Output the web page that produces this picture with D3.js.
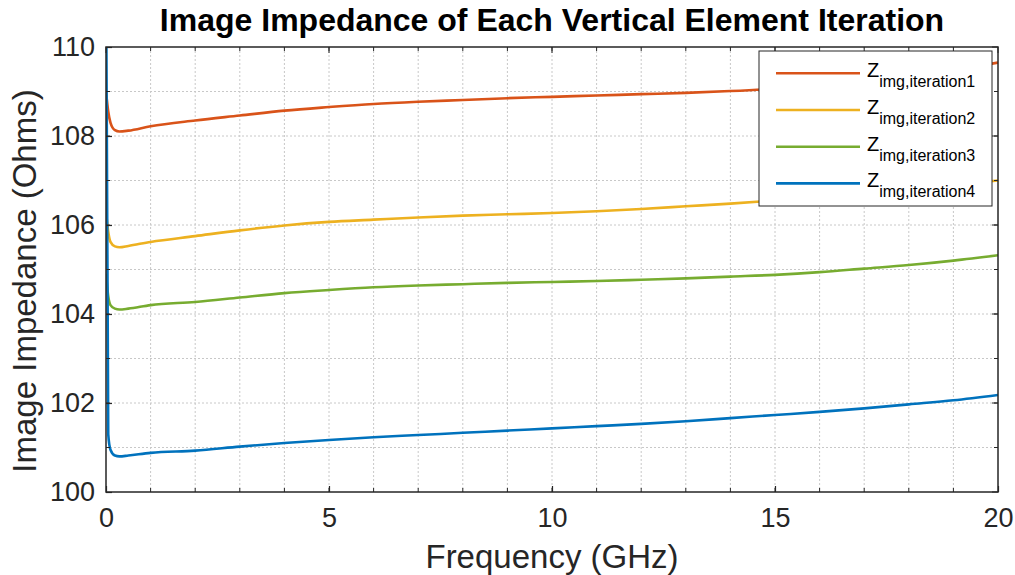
<!DOCTYPE html>
<html><head><meta charset="utf-8">
<script src="https://cdn.jsdelivr.net/npm/d3@7"></script>
<style>body{margin:0;background:#fff;} text{font-family:"Liberation Sans",Arial,sans-serif;}</style>
</head><body><svg id="c" width="1015" height="575"></svg>
<script>
const freq = [0, 0.05, 0.1, 0.2, 0.3, 0.5, 1, 2, 3, 4, 5, 6, 7, 8, 9, 10, 11, 12, 13, 14, 15, 16, 17, 18, 19, 20];
const iter1 = [109.0, 108.55, 108.3, 108.13, 108.1, 108.12, 108.22, 108.35, 108.46, 108.57, 108.65, 108.72, 108.77, 108.81, 108.85, 108.88, 108.91, 108.94, 108.97, 109.01, 109.06, 109.13, 109.22, 109.33, 109.47, 109.65];
const iter2 = [106.3, 105.85, 105.62, 105.52, 105.5, 105.53, 105.62, 105.75, 105.88, 105.99, 106.07, 106.12, 106.17, 106.21, 106.24, 106.27, 106.31, 106.36, 106.42, 106.48, 106.55, 106.63, 106.71, 106.8, 106.9, 107.0];
const iter3 = [104.9, 104.4, 104.2, 104.12, 104.1, 104.12, 104.2, 104.27, 104.37, 104.47, 104.54, 104.6, 104.64, 104.67, 104.7, 104.72, 104.74, 104.77, 104.8, 104.84, 104.88, 104.94, 105.02, 105.1, 105.2, 105.32];
const iter4 = [112, 101.3, 100.95, 100.82, 100.8, 100.82, 100.88, 100.93, 101.02, 101.1, 101.17, 101.23, 101.28, 101.33, 101.38, 101.43, 101.48, 101.53, 101.59, 101.66, 101.73, 101.8, 101.88, 101.97, 102.06, 102.18];
const seriesNames = ["iteration1", "iteration2", "iteration3", "iteration4"];
const colors = ["#D95319", "#EDB120", "#77AC30", "#0072BD"];
const xTicks = [0, 5, 10, 15, 20];
const yTicks = [100, 102, 104, 106, 108, 110];

const svg = d3.select("#c");
const L = 106, R = 998, T = 47, B = 492;
const x = d3.scaleLinear().domain([0, 20]).range([L, R]);
const y = d3.scaleLinear().domain([100, 110]).range([B, T]);

svg.append("defs").append("clipPath").attr("id", "clip")
  .append("rect").attr("x", L).attr("y", T).attr("width", R - L).attr("height", B - T);

// grid (minor + major, dotted)
const gx = d3.range(1, 20), gy = d3.range(101, 110);
svg.append("g").selectAll("line").data(gx).join("line")
  .attr("x1", d => x(d)).attr("x2", d => x(d)).attr("y1", T).attr("y2", B)
  .attr("stroke", "#c8c8c8").attr("stroke-width", 1).attr("stroke-dasharray", "2,2");
svg.append("g").selectAll("line").data(gy).join("line")
  .attr("y1", d => y(d)).attr("y2", d => y(d)).attr("x1", L).attr("x2", R)
  .attr("stroke", "#c8c8c8").attr("stroke-width", 1).attr("stroke-dasharray", "2,2");

// lines
const data = [iter1, iter2, iter3, iter4];
const line = d3.line().x(d => x(d[0])).y(d => y(d[1])).curve(d3.curveMonotoneX);
const lg = svg.append("g").attr("clip-path", "url(#clip)");
data.forEach((s, i) => {
  lg.append("path").datum(freq.map((f, j) => [f, s[j]]))
    .attr("d", line).attr("fill", "none").attr("stroke", colors[i]).attr("stroke-width", 2.6);
});

// axes box with inward ticks
const axCol = "#262626";
const fs = 27;
const bottom = d3.axisBottom(x).tickValues(xTicks).tickSize(-6).tickPadding(16).tickFormat(d3.format("d"));
const left = d3.axisLeft(y).tickValues(yTicks).tickSize(-6).tickPadding(11).tickFormat(d3.format("d"));
const gb = svg.append("g").attr("transform", `translate(0,${B})`).call(bottom);
const gl = svg.append("g").attr("transform", `translate(${L},0)`).call(left);
[gb, gl].forEach(g => {
  g.select(".domain").remove();
  g.selectAll("line").attr("stroke", axCol).attr("stroke-width", 1.2);
  g.selectAll("text").attr("fill", axCol).style("font-size", fs + "px").style("font-family", "Liberation Sans, Arial, sans-serif");
});
// minor ticks
const minorG = svg.append("g").attr("stroke", axCol).attr("stroke-width", 1);
gx.forEach(d => {
  minorG.append("line").attr("x1", x(d)).attr("x2", x(d)).attr("y1", B).attr("y2", B - 4);
  minorG.append("line").attr("x1", x(d)).attr("x2", x(d)).attr("y1", T).attr("y2", T + 4);
});
gy.forEach(d => {
  minorG.append("line").attr("y1", y(d)).attr("y2", y(d)).attr("x1", L).attr("x2", L + 4);
  minorG.append("line").attr("y1", y(d)).attr("y2", y(d)).attr("x1", R).attr("x2", R - 4);
});
xTicks.forEach(d => minorG.append("line").attr("x1", x(d)).attr("x2", x(d)).attr("y1", T).attr("y2", T + 6));
yTicks.forEach(d => minorG.append("line").attr("y1", y(d)).attr("y2", y(d)).attr("x1", R).attr("x2", R - 6));
svg.append("rect").attr("x", L).attr("y", T).attr("width", R - L).attr("height", B - T)
  .attr("fill", "none").attr("stroke", axCol).attr("stroke-width", 1.5);

// titles
svg.append("text").attr("x", 552).attr("y", 31).attr("text-anchor", "middle")
  .style("font-size", "32px").style("font-weight", "bold").attr("fill", "#000")
  .text("Image Impedance of Each Vertical Element Iteration");
svg.append("text").attr("x", 552).attr("y", 568).attr("text-anchor", "middle")
  .style("font-size", "33px").attr("fill", axCol).text("Frequency (GHz)");
svg.append("text").attr("transform", "translate(36,281) rotate(-90)").attr("text-anchor", "middle")
  .style("font-size", "33px").attr("fill", axCol).text("Image Impedance (Ohms)");

// legend
const lgx = 759, lgy = 51, lgw = 233, lgh = 155;
svg.append("rect").attr("x", lgx).attr("y", lgy).attr("width", lgw).attr("height", lgh)
  .attr("fill", "#fff").attr("stroke", axCol).attr("stroke-width", 1);
seriesNames.forEach((n, i) => {
  const yy = 73.3 + i * 36.7;
  svg.append("line").attr("x1", 776).attr("x2", 860).attr("y1", yy).attr("y2", yy)
    .attr("stroke", colors[i]).attr("stroke-width", 2.6);
  const t = svg.append("text").attr("x", 867).attr("y", yy + 4).attr("fill", "#000").style("font-size", "20px");
  t.append("tspan").text("Z");
  t.append("tspan").attr("dy", 10).style("font-size", "16px").text("img," + n);
});
</script></body></html>
